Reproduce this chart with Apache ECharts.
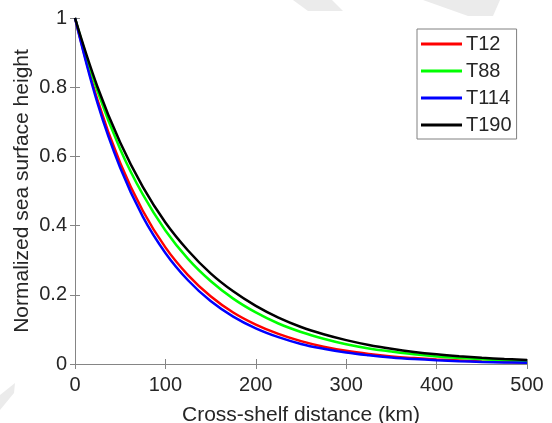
<!DOCTYPE html>
<html lang="en">
<head>
<meta charset="utf-8">
<title>Normalized sea surface height</title>
<script src="https://cdn.jsdelivr.net/npm/echarts@6/dist/echarts.min.js"></script>
<style>
  html, body { margin: 0; padding: 0; background: #fff; }
  #chart { width: 552px; height: 423px; }
</style>
</head>
<body>
<div id="chart"></div>
<script type="text/javascript">
    // cross-shelf distance (km)
    var distance = [0, 25, 50, 75, 100, 125, 150, 175, 200, 225, 250,
                    275, 300, 325, 350, 375, 400, 425, 450, 475, 500];

    // normalized sea surface height
    var t12 = [1, 0.762, 0.581, 0.443, 0.337, 0.257, 0.196, 0.149, 0.114, 0.087, 0.066,
               0.050, 0.038, 0.029, 0.022, 0.017, 0.013, 0.010, 0.0075, 0.0057, 0.0044];
    var t88 = [1, 0.788, 0.621, 0.490, 0.386, 0.304, 0.240, 0.189, 0.149, 0.117, 0.0925,
               0.073, 0.057, 0.045, 0.036, 0.028, 0.022, 0.0175, 0.0138, 0.0108, 0.0086];
    var t114 = [1, 0.753, 0.567, 0.426, 0.321, 0.242, 0.182, 0.137, 0.103, 0.0775, 0.058,
                0.044, 0.033, 0.025, 0.0187, 0.0141, 0.0106, 0.008, 0.006, 0.0045, 0.0034];
    var t190 = [1, 0.800, 0.640, 0.512, 0.409, 0.328, 0.262, 0.210, 0.168, 0.134, 0.107,
                0.086, 0.069, 0.055, 0.044, 0.035, 0.028, 0.0225, 0.018, 0.0144, 0.0115];

    var names = ['T12', 'T88', 'T114', 'T190'];
    var colors = ['#ff0000', '#00ff00', '#0000ff', '#000000'];
    var values = [t12, t88, t114, t190];

    var fontName = 'Liberation Sans';
    var textColor = '#262626';
    var axisColor = '#858585';

    var myChart = echarts.init(document.getElementById('chart'));

    // 把数据拼成 [x, y] 点
    function pairs(ys) {
        var out = [];
        for (var i = 0; i < distance.length; i++) {
            out.push([distance[i], ys[i]]);
        }
        return out;
    }

    var series = [];
    for (var k = 0; k < names.length; k++) {
        series.push({
            name: names[k],
            type: 'line',
            data: pairs(values[k]),
            smooth: 0.4,
            symbol: 'none',
            lineStyle: { color: colors[k], width: 2.5 },
            itemStyle: { color: colors[k] },
            z: 3 + k
        });
    }

    var boxAxis = {
        axisLine: { show: true, lineStyle: { color: axisColor, width: 1 } },
        axisTick: { show: true, inside: true, length: 5, lineStyle: { color: axisColor } },
        splitLine: { show: false }
    };

    var option = {
        backgroundColor: '#fff',
        animation: false,
        textStyle: { fontFamily: fontName },
        graphic: [
            { type: 'polygon', z: -10, shape: { points: [[293, 0], [332, 0], [343, 11], [308, 11]] },
              style: { fill: '#ebebeb' } },
            { type: 'polygon', z: -10, shape: { points: [[423, 0], [500, 0], [493, 16], [468, 16]] },
              style: { fill: '#ebebeb' } },
            { type: 'polygon', z: -10, shape: { points: [[0, 395], [15, 383], [14, 393], [0, 410]] },
              style: { fill: '#ebebeb' } }
        ],
        grid: {
            left: 75, right: 25, top: 18, bottom: 59,
            outerBoundsMode: 'none',
            containLabel: false
        },
        legend: {
            orient: 'vertical',
            left: 417,
            top: 29,
            padding: [5, 5, 4, 4],
            itemGap: 7,
            itemWidth: 41,
            itemHeight: 3,
            icon: 'rect',
            backgroundColor: '#fff',
            borderColor: '#808080',
            borderWidth: 1,
            borderRadius: 0,
            textStyle: { fontFamily: fontName, fontSize: 20, color: textColor, padding: [0, 0, 0, -1] },
            data: names
        },
        xAxis: [
            Object.assign({
                type: 'value',
                min: 0, max: 500, interval: 100,
                position: 'bottom',
                name: 'Cross-shelf distance (km)',
                nameLocation: 'middle',
                nameGap: 41,
                nameMoveOverlap: false,
                nameTextStyle: { fontFamily: fontName, fontSize: 21, color: textColor },
                axisLabel: { fontFamily: fontName, fontSize: 20, color: textColor, margin: 11 }
            }, boxAxis),
            Object.assign({
                type: 'value',
                min: 0, max: 500, interval: 100,
                position: 'top',
                axisLabel: { show: false }
            }, boxAxis)
        ],
        yAxis: [
            Object.assign({
                type: 'value',
                min: 0, max: 1, interval: 0.2,
                position: 'left',
                name: 'Normalized sea surface height',
                nameLocation: 'middle',
                nameGap: 42,
                nameMoveOverlap: false,
                nameTextStyle: { fontFamily: fontName, fontSize: 21, color: textColor },
                axisLabel: { fontFamily: fontName, fontSize: 20, color: textColor, margin: 8 }
            }, boxAxis),
            Object.assign({
                type: 'value',
                min: 0, max: 1, interval: 0.2,
                position: 'right',
                axisLabel: { show: false }
            }, boxAxis)
        ],
        series: series
    };

    myChart.setOption(option);
</script>
</body>
</html>
